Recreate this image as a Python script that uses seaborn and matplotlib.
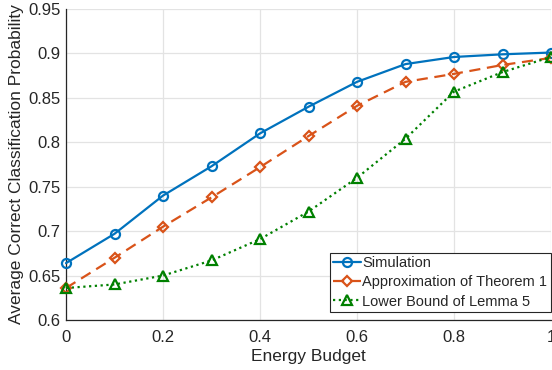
import matplotlib
matplotlib.use("Agg")
import matplotlib.pyplot as plt
import seaborn as sns
import pandas as pd

energy = [0.0, 0.1, 0.2, 0.3, 0.4, 0.5, 0.6, 0.7, 0.8, 0.9, 1.0]
simulation = [0.664, 0.697, 0.740, 0.773, 0.810, 0.840, 0.868, 0.888, 0.896, 0.899, 0.901]
approx_thm1 = [0.636, 0.670, 0.705, 0.738, 0.772, 0.807, 0.841, 0.868, 0.877, 0.887, 0.895]
lower_lemma5 = [0.636, 0.640, 0.650, 0.667, 0.691, 0.722, 0.760, 0.804, 0.857, 0.879, 0.896]

series_names = ["Simulation", "Approximation of Theorem 1", "Lower Bound of Lemma 5"]
xticks = [0, 0.2, 0.4, 0.6, 0.8, 1]
xtick_labels = ["0", "0.2", "0.4", "0.6", "0.8", "1"]
yticks = [0.6, 0.65, 0.7, 0.75, 0.8, 0.85, 0.9, 0.95]
ytick_labels = ["0.6", "0.65", "0.7", "0.75", "0.8", "0.85", "0.9", "0.95"]

df = pd.DataFrame({
    "Energy Budget": energy * 3,
    "Probability": simulation + approx_thm1 + lower_lemma5,
    "Series": [series_names[0]] * len(energy)
    + [series_names[1]] * len(energy)
    + [series_names[2]] * len(energy),
})

sns.set_theme(style="white")
plt.rcParams["font.family"] = ["Liberation Sans", "DejaVu Sans"]

fig = plt.figure(figsize=(5.52, 3.70), dpi=100)
ax = fig.add_axes([66 / 552, 1 - 320 / 370, 485 / 552, 311 / 370])

palette = {series_names[0]: "#0072BD", series_names[1]: "#D95319", series_names[2]: "#008000"}
styles = {
    series_names[0]: dict(ls="-", marker="o"),
    series_names[1]: dict(ls=(0, (5, 3)), marker="D"),
    series_names[2]: dict(ls=(0, (1, 1.6)), marker="^"),
}
msizes = {series_names[0]: 6.5, series_names[1]: 5.5, series_names[2]: 7.5}

for name in series_names:
    sub = df[df["Series"] == name]
    sns.lineplot(data=sub, x="Energy Budget", y="Probability", ax=ax,
                 color=palette[name], linestyle=styles[name]["ls"],
                 marker=styles[name]["marker"], markersize=msizes[name],
                 markerfacecolor="none", markeredgecolor=palette[name],
                 markeredgewidth=1.6, linewidth=1.6, label=name, clip_on=False, zorder=3)

ax.set_xlim(0, 1)
ax.set_ylim(0.6, 0.95)
ax.set_xticks(xticks)
ax.set_xticklabels(xtick_labels)
ax.set_yticks(yticks)
ax.set_yticklabels(ytick_labels)
ax.grid(True, color="#e3e3e3", linewidth=0.9)
ax.set_axisbelow(True)
for s in ["top", "right"]:
    ax.spines[s].set_visible(False)
for s in ["left", "bottom"]:
    ax.spines[s].set_color("#262626")
    ax.spines[s].set_linewidth(0.9)
ax.tick_params(axis="both", labelsize=12, colors="#262626", length=0, pad=4)
ax.tick_params(axis="x", pad=7)
ax.set_xlabel("Energy Budget", fontsize=12.5, color="#262626", labelpad=3)
ax.set_ylabel("Average Correct Classification Probability", fontsize=12.5, color="#262626", labelpad=3)

leg = ax.legend(loc="lower right", bbox_to_anchor=(1.0, 0.025), fontsize=10.5,
                frameon=True, fancybox=False, handlelength=1.9, handletextpad=0.1,
                borderpad=0.25, labelspacing=0.35, borderaxespad=0.0)
leg.get_frame().set_edgecolor("#262626")
leg.get_frame().set_linewidth(0.8)
leg.get_frame().set_alpha(1.0)

fig.savefig("out.png", dpi=100)
